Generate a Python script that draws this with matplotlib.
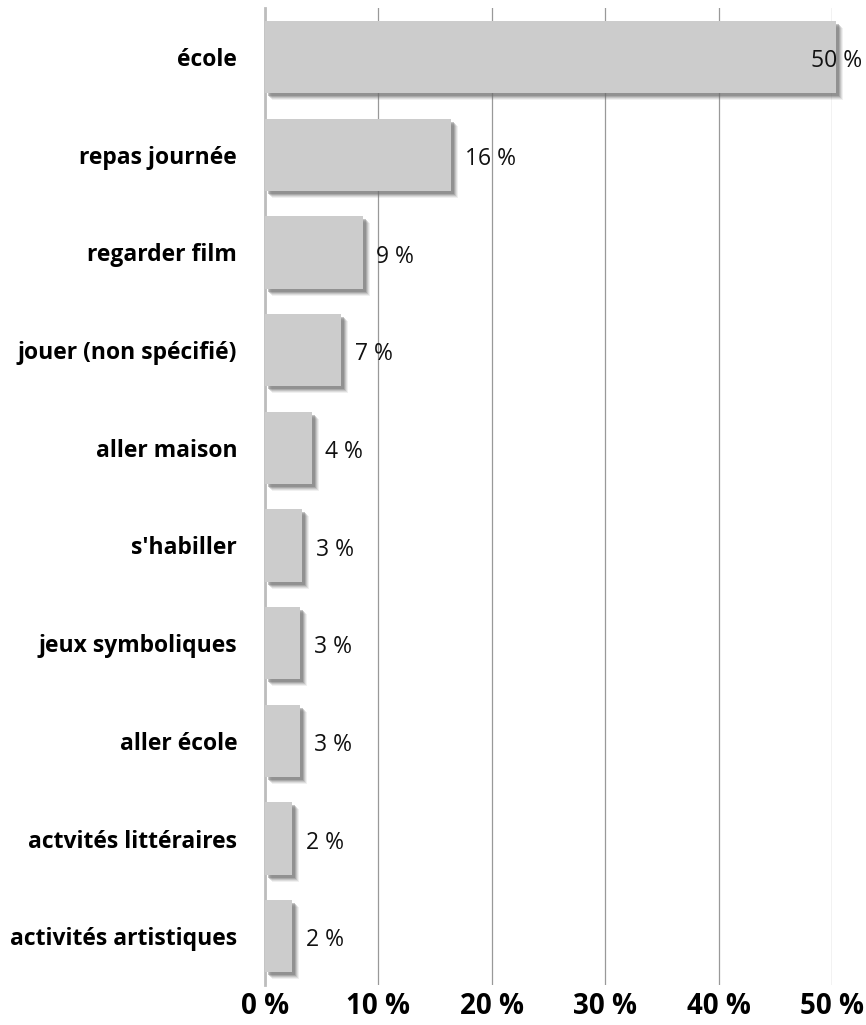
import matplotlib.pyplot as plt
import matplotlib.transforms as mtransforms

categories = [
    "école",
    "repas journée",
    "regarder film",
    "jouer (non spécifié)",
    "aller maison",
    "s'habiller",
    "jeux symboliques",
    "aller école",
    "actvités littéraires",
    "activités artistiques",
]
shares = [50.3, 16.4, 8.6, 6.7, 4.1, 3.3, 3.1, 3.1, 2.4, 2.4]
xticks = [0, 10, 20, 30, 40, 50]

BAR = "#cccccc"
EDGE_GRAY = "#bdbdbd"
FONT = "Open Sans"

fig = plt.figure(figsize=(8.66, 10.25), dpi=100)
ax = fig.add_axes([0.306, 0.039, 0.655, 0.953])

y = list(range(len(categories)))[::-1]
height = 0.74

# soft drop shadow: a few stacked offset bars
for off, alpha in [(7, 0.10), (6, 0.15), (5, 0.22), (4, 0.32), (3, 0.42)]:
    tr = mtransforms.offset_copy(ax.transData, fig=fig, x=off, y=-off, units="dots")
    ax.barh(y, shares, height=height, color="#707070", alpha=alpha,
            transform=tr, zorder=2, clip_on=False, linewidth=0)

ax.barh(y, shares, height=height, color=BAR, zorder=3, clip_on=False, linewidth=0)

for yi, v in zip(y, shares):
    label = f"{round(v)} %"
    if v > 45:
        ax.annotate(label, (v, yi), xytext=(19, -3), textcoords="offset points",
                    ha="right", va="center", fontsize=16.5, fontfamily=FONT,
                    color="#111111", zorder=5, annotation_clip=False)
    else:
        ax.annotate(label, (v, yi), xytext=(10, -3), textcoords="offset points",
                    ha="left", va="center", fontsize=16.5, fontfamily=FONT,
                    color="#111111", zorder=5, annotation_clip=False)

ax.set_xlim(0, 50)
ax.set_ylim(-0.5, len(categories) - 0.5)
ax.set_xticks(xticks)
ax.set_xticklabels([f"{t} %" for t in xticks], fontsize=20, fontweight="bold",
                   fontfamily=FONT)
ax.set_yticks(y)
ax.set_yticklabels(categories, fontsize=16.5, fontweight="bold", fontfamily=FONT)
ax.tick_params(axis="both", length=0)
ax.tick_params(axis="x", pad=5)
ax.tick_params(axis="y", pad=20)

ax.grid(axis="x", color="#999999", linewidth=0.9, zorder=0)
ax.set_axisbelow(True)
for side in ["top", "right", "bottom"]:
    ax.spines[side].set_visible(False)
ax.spines["left"].set_color(EDGE_GRAY)
ax.spines["left"].set_linewidth(2)

fig.savefig("out.png", dpi=100)
